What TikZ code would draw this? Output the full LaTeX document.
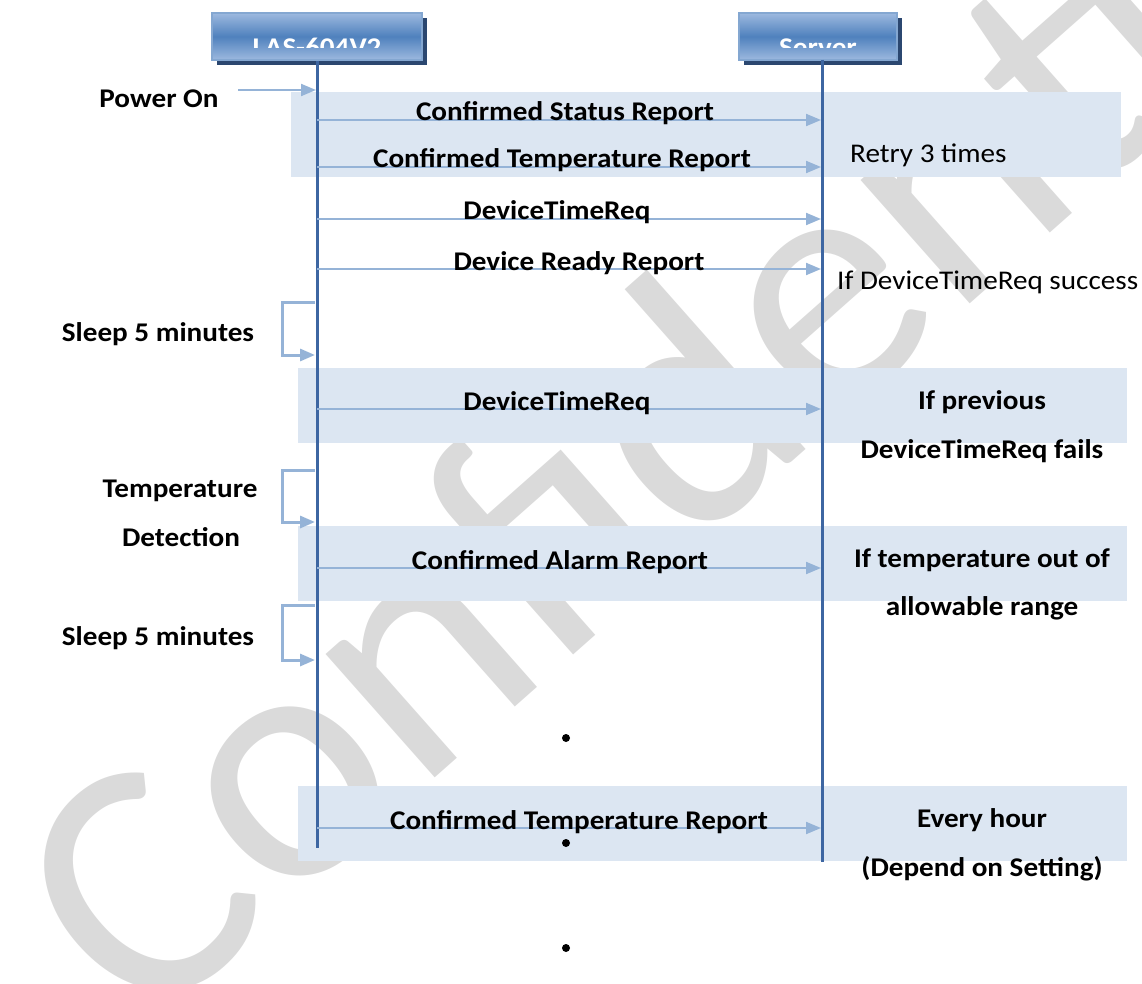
\documentclass[tikz,border=0pt]{standalone}
\usepackage{fontspec}
\setmainfont{Carlito}
\newfontfamily\lblfont{Carlito}[FakeStretch=1.08]
\usetikzlibrary{arrows.meta, positioning, shadows}

\definecolor{lineblue}{HTML}{3D66A2}
\definecolor{msgblue}{HTML}{95B3D7}
\definecolor{bandblue}{HTML}{DCE6F2}
\definecolor{headblue}{HTML}{4F81BD}
\definecolor{headlight}{HTML}{9DB9DF}
\definecolor{headdark}{HTML}{2B4770}
\definecolor{wmgray}{HTML}{DADADA}

\begin{document}
\begin{tikzpicture}[
  x=1pt, y=-1pt,
  head/.style={
    rectangle, draw=headblue!70!white, line width=1.5pt,
    top color=headlight, bottom color=headlight, middle color=headblue,
    minimum width=210pt, minimum height=47pt, inner sep=0pt,
    drop shadow={shadow xshift=5pt, shadow yshift=-5pt, fill=headdark, opacity=1}
  },
  band/.style={fill=bandblue},
  life/.style={draw=lineblue, line width=3pt},
  msg/.style={draw=msgblue, line width=2pt, -{Triangle[length=15pt, width=12pt]}},
  selfarr/.style={msg, line width=3pt},
  lbl/.style={font=\lblfont\fontsize{27}{30}\selectfont\bfseries, anchor=base, inner sep=0pt},
  note/.style={font=\lblfont\fontsize{27}{30}\selectfont, anchor=base west, inner sep=0pt},
  dot/.style={circle, fill=black, inner sep=0pt, minimum size=8pt}
]
  \useasboundingbox (0,0) rectangle (1142,984);

  % Watermark
  \node[text=wmgray, font=\fontsize{345}{345}\selectfont, rotate=41.5] (wm) at (700,385) {Confidential};

  % Bands
  \fill[band] (291,92) rectangle (1121,177);
  \fill[band] (298,368) rectangle (1127,443);
  \fill[band] (298,526) rectangle (1127,601);
  \fill[band] (298,786) rectangle (1127,861);

  % Heads
  \node[head] (las) at (317,36.5) {};
  \node[head, minimum width=158pt] (srv) at (818,36.5) {};
  \begin{scope}
    \clip (las.north west) rectangle (las.east |- 0,48);
    \node[lbl, text=white] (lastxt) at (317,57) {LAS-604V2};
  \end{scope}
  \begin{scope}
    \clip (srv.north west) rectangle (srv.east |- 0,48);
    \node[lbl, text=white] (srvtxt) at (818,57) {Server};
  \end{scope}

  % Lifelines
  \coordinate (lasend) at (317,848);
  \coordinate (srvtop) at (822,60);
  \coordinate (srvend) at (822,862);
  \draw[life] (las.south) -- (lasend);
  \draw[life] (srvtop) -- (srvend);

  % Messages
  \coordinate (pwr) at (238,90);
  \coordinate (pwrend) at (316,90);
  \draw[msg] (pwr) -- (pwrend);
  \foreach \y/\cx/\txt [count=\i] in {120/565/Confirmed Status Report,
      167/562/Confirmed Temperature Report, 219/557/DeviceTimeReq,
      269/579/Device Ready Report, 409/557/DeviceTimeReq,
      568/560/Confirmed Alarm Report, 828/579/Confirmed Temperature Report} {
    \coordinate (from\i) at (317,\y);
    \coordinate (to\i) at (821,\y);
    \draw[msg] (from\i) -- (to\i);
    \node[lbl] (msg\i) at (\cx,\y+1) {\txt};
  }

  % Self arrows
  \foreach \a/\b [count=\i] in {302/355, 470/522, 605/660} {
    \coordinate (sa\i) at (315,\a);
    \coordinate (sb\i) at (315,\b);
    \draw[selfarr] (sa\i) -- ++(-33,0) |- (sb\i);
  }

  % Left labels
  \node[lbl] (power) at (159,108) {Power On};
  \node[lbl] (sleep1) at (158,341) {Sleep 5 minutes};
  \node[lbl] (temp) at (180,497) {Temperature};
  \node[lbl] (detect) at (181,546) {Detection};
  \node[lbl] (sleep2) at (158,645) {Sleep 5 minutes};

  % Right notes
  \node[note] (retry) at (850,163) {Retry 3 times};
  \node[note] (success) at (837,289) {If DeviceTimeReq success};
  \node[lbl] (prev1) at (982,409) {If previous};
  \node[lbl] (prev2) at (982,458) {DeviceTimeReq fails};
  \node[lbl] (range1) at (982,567) {If temperature out of};
  \node[lbl] (range2) at (982,615) {allowable range};
  \node[lbl] (hour1) at (982,827) {Every hour};
  \node[lbl] (hour2) at (982,876) {(Depend on Setting)};

  % Dots
  \foreach \y [count=\i] in {738,843,948}
    \node[dot] (dot\i) at (566,\y) {};
\end{tikzpicture}
\end{document}
